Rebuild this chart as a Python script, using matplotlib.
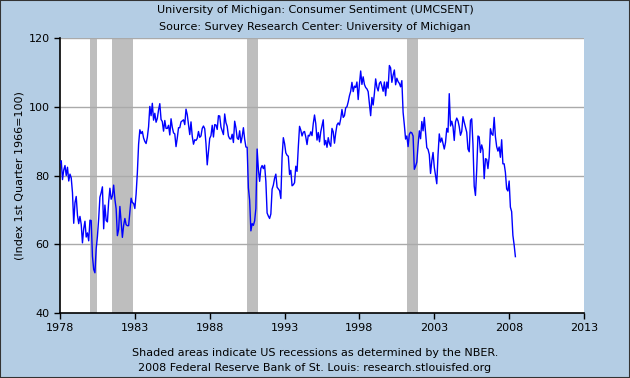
import numpy as np
import matplotlib
matplotlib.use("Agg")
import matplotlib.pyplot as plt

start_year = 1978
values = [
    83.7, 84.3, 78.8, 81.6, 82.9, 80.0, 82.4, 78.4, 80.4, 79.3, 75.0, 66.1,
    72.1, 73.9, 68.4, 66.0, 68.1, 65.8, 60.4, 64.5, 66.7, 62.1, 63.3, 61.0,
    67.0, 66.9, 56.5, 52.7, 51.7, 58.7, 62.3, 67.4, 73.7, 75.0, 76.7, 64.5,
    71.4, 66.9, 66.5, 72.4, 76.3, 73.1, 74.1, 77.2, 73.1, 70.3, 62.5, 64.3,
    71.0, 66.5, 62.0, 65.5, 67.5, 65.7, 65.4, 65.4, 69.3, 73.4, 72.1, 71.9,
    70.4, 74.6, 80.8, 89.1, 93.3, 92.2, 92.8, 90.9, 89.9, 89.3, 91.1, 94.2,
    100.1, 97.4, 101.0, 96.1, 98.1, 95.5, 96.6, 99.1, 100.9, 96.3, 95.7, 92.9,
    96.0, 93.7, 93.7, 94.6, 91.8, 96.5, 94.0, 92.4, 92.1, 88.4, 90.9, 93.9,
    93.9, 95.6, 95.9, 96.2, 94.8, 99.3, 97.7, 94.9, 91.9, 95.6, 91.4, 89.1,
    90.4, 90.2, 90.8, 92.8, 91.1, 91.5, 93.7, 94.4, 93.6, 89.3, 83.1, 86.8,
    90.8, 91.6, 94.6, 91.2, 94.8, 94.7, 93.4, 97.4, 97.3, 94.1, 93.0, 91.9,
    97.9, 95.4, 94.3, 91.5, 90.7, 90.6, 92.0, 89.6, 95.8, 93.9, 90.9, 90.5,
    93.0, 89.5, 91.3, 93.9, 90.6, 88.3, 88.2, 76.4, 72.8, 63.9, 66.0, 65.5,
    66.8, 70.4, 87.7, 81.8, 78.3, 82.1, 82.9, 82.0, 83.0, 78.3, 69.1, 68.2,
    67.5, 68.8, 76.0, 77.2, 79.2, 80.4, 76.6, 76.1, 75.6, 73.3, 85.3, 91.0,
    89.3, 86.6, 85.9, 85.6, 80.3, 81.5, 77.0, 77.3, 77.9, 82.7, 81.2, 88.2,
    94.3, 93.2, 91.5, 92.6, 92.8, 91.2, 89.0, 91.7, 91.5, 92.7, 91.6, 95.1,
    97.6, 95.1, 90.3, 92.5, 89.8, 92.7, 94.4, 96.2, 88.9, 90.2, 88.2, 91.0,
    89.3, 88.5, 93.7, 92.7, 89.4, 92.4, 94.7, 95.3, 94.7, 96.5, 99.2, 96.9,
    97.4, 99.7, 100.0, 101.4, 103.2, 104.5, 107.1, 104.4, 106.0, 105.6, 107.2, 102.1,
    106.6, 110.4, 106.5, 108.7, 106.5, 105.6, 105.2, 104.4, 100.9, 97.4, 102.7, 100.5,
    103.9, 108.1, 105.7, 104.6, 106.8, 107.3, 106.0, 104.5, 107.2, 103.2, 107.2, 105.4,
    112.0, 111.3, 107.1, 109.2, 110.7, 106.4, 108.3, 107.3, 106.8, 105.8, 107.6, 98.4,
    94.7, 90.6, 91.5, 88.4, 92.0, 92.6, 92.4, 91.5, 81.8, 82.7, 83.9, 88.8,
    93.0, 90.7, 95.7, 93.0, 96.9, 92.4, 88.1, 87.6, 86.1, 80.6, 84.2, 86.7,
    82.4, 79.9, 77.6, 86.0, 92.1, 89.7, 90.9, 89.3, 87.7, 89.6, 93.7, 92.6,
    103.8, 94.4, 95.8, 94.2, 90.2, 95.6, 96.7, 95.9, 94.2, 91.7, 92.8, 97.1,
    95.5, 94.1, 92.6, 87.7, 86.9, 96.0, 96.5, 89.1, 76.9, 74.2, 81.6, 91.5,
    91.2, 86.7, 88.9, 87.4, 79.1, 84.9, 84.7, 82.0, 85.4, 93.6, 92.1, 91.7,
    96.9, 91.3, 88.4, 87.1, 88.3, 85.3, 90.4, 83.4, 83.4, 80.9, 76.1, 75.5,
    78.4, 70.8, 69.5, 62.6, 59.8, 56.4,
]
recessions = [(1980.0, 1980.5), (1981.5, 1982.9), (1990.5, 1991.2), (2001.2, 2001.9)]
x_ticks = [1978, 1983, 1988, 1993, 1998, 2003, 2008, 2013]
y_ticks = [40, 60, 80, 100, 120]

title1 = "University of Michigan: Consumer Sentiment (UMCSENT)"
title2 = "Source: Survey Research Center: University of Michigan"
ylabel = "(Index 1st Quarter 1966=100)"
foot1 = "Shaded areas indicate US recessions as determined by the NBER."
foot2 = "2008 Federal Reserve Bank of St. Louis: research.stlouisfed.org"

bg = "#B4CDE4"
W, H = 630, 378
fs = 8
fig = plt.figure(figsize=(W / 100, H / 100), dpi=100, facecolor=bg)
ax = fig.add_axes([60 / W, 1 - 313 / H, (584 - 60) / W, (313 - 38) / H])
ax.set_facecolor("white")

t = start_year + np.arange(len(values)) / 12.0
for a, b in recessions:
    ax.axvspan(a, b, color="#BEBEBE", lw=0, zorder=1)
for yv in [60, 80, 100, 120]:
    ax.axhline(yv, color="#AAAAAA", lw=1, zorder=2)
ax.plot(t, values, color="#0000FF", lw=1.0, zorder=3)

ax.set_xlim(1978, 2013)
ax.set_ylim(40, 120)
ax.set_xticks(x_ticks)
ax.set_yticks(y_ticks)
ax.tick_params(direction="out", length=4, width=1, labelsize=fs, color="black")
for s in ["top", "right"]:
    ax.spines[s].set_visible(False)
for s in ["left", "bottom"]:
    ax.spines[s].set_linewidth(1.2)
ax.set_ylabel(ylabel, fontsize=fs, va="center")
ax.yaxis.set_label_coords(-40 / (584 - 60), 0.5)

fig.text(0.5, 1 - 10 / H, title1, ha="center", va="center", fontsize=fs)
fig.text(0.5, 1 - 27 / H, title2, ha="center", va="center", fontsize=fs)
fig.text(0.5, 1 - 353 / H, foot1, ha="center", va="center", fontsize=fs)
fig.text(0.5, 1 - 368 / H, foot2, ha="center", va="center", fontsize=fs)

# outer border
fig.patches.append(plt.Rectangle((0, 0), 1, 1, transform=fig.transFigure,
                                 fill=False, edgecolor="#333333", lw=1.5))

fig.savefig("out.png", dpi=100, facecolor=bg)
